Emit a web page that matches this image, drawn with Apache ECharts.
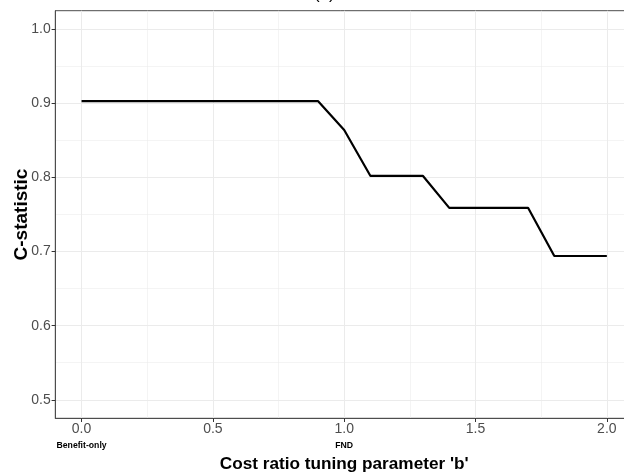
<!DOCTYPE html>
<html>
<head>
<meta charset="utf-8">
<script src="https://cdn.jsdelivr.net/npm/echarts@6/dist/echarts.min.js"></script>
<style>html,body{margin:0;padding:0;background:#fff;}#c{width:624px;height:474px;}</style>
</head>
<body>
<div id="c"></div>
<script>
// ---- data ----
const bValues = [0.0,0.1,0.2,0.3,0.4,0.5,0.6,0.7,0.8,0.9,1.0,1.1,1.2,1.3,1.4,1.5,1.6,1.7,1.8,1.9,2.0];
const cStatistic = [0.903,0.903,0.903,0.903,0.903,0.903,0.903,0.903,0.903,0.903,0.864,0.802,0.802,0.802,0.759,0.759,0.759,0.759,0.694,0.694,0.694];
const xMajorTicks = [0, 0.5, 1.0, 1.5, 2.0];
const xMinorTicks = [0.25, 0.75, 1.25, 1.75];
const yMajorTicks = [0.5, 0.6, 0.7, 0.8, 0.9, 1.0];
const yMinorTicks = [0.55, 0.65, 0.75, 0.85, 0.95];
const annotationValues = [0, 1];
const annotationLabels = ['Benefit-only', 'FND'];
const plotTitle = '(a)';
const xTitle = "Cost ratio tuning parameter 'b'";
const yTitle = 'C-statistic';

const FONT = '"Liberation Sans", Arial, Helvetica, sans-serif';
const chart = echarts.init(document.getElementById('c'), null, {renderer: 'canvas'});
const lineData = bValues.map((b, i) => [b, cStatistic[i]]);

const hidden = {show: false};
const option = {
  animation: false,
  backgroundColor: '#ffffff',
  title: {
    text: plotTitle, left: 309, top: -19,
    textStyle: {fontFamily: FONT, fontSize: 17, fontWeight: 'normal', color: '#000'}
  },
  grid: {
    left: 55.3, top: 10.7, width: 577.8, height: 407.6,
    outerBoundsMode: 'none', containLabel: false,
    show: true, borderColor: '#4d4d4d', borderWidth: 1, backgroundColor: 'transparent'
  },
  xAxis: [
    {
      type: 'value', min: -0.1, max: 2.1,
      axisLine: {show: true, onZero: false, lineStyle: {color: '#4d4d4d', width: 1}},
      axisTick: {show: true, customValues: xMajorTicks, length: 3.7, lineStyle: {color: '#333', width: 1}},
      axisLabel: {customValues: xMajorTicks, formatter: v => v.toFixed(1), fontFamily: FONT, fontSize: 14, color: '#4d4d4d', margin: 3.5},
      splitLine: {show: true, lineStyle: {color: '#ebebeb', width: 1.07}},
      name: xTitle, nameLocation: 'middle', nameGap: 37, nameMoveOverlap: false,
      nameTextStyle: {fontFamily: FONT, fontSize: 17.2, fontWeight: 'bold', color: '#000'}
    },
    {
      type: 'value', min: -0.1, max: 2.1, position: 'bottom',
      axisLine: hidden, axisLabel: hidden,
      axisTick: {show: false, customValues: xMinorTicks},
      splitLine: {show: true, lineStyle: {color: '#ebebeb', width: 0.55}}
    },
    {
      type: 'value', min: -0.1, max: 2.1, position: 'bottom',
      axisLine: hidden, splitLine: hidden,
      axisTick: {show: false, customValues: annotationValues},
      axisLabel: {
        customValues: annotationValues,
        formatter: v => annotationLabels[annotationValues.indexOf(v)] || '',
        fontFamily: FONT, fontSize: 8.7, fontWeight: 'bold', color: '#000', margin: 22.5
      }
    }
  ],
  yAxis: [
    {
      type: 'value', min: 0.475, max: 1.025,
      axisLine: {show: true, onZero: false, lineStyle: {color: '#4d4d4d', width: 1}},
      axisTick: {show: true, customValues: yMajorTicks, length: 3.7, lineStyle: {color: '#333', width: 1}},
      axisLabel: {customValues: yMajorTicks, formatter: v => v.toFixed(1), fontFamily: FONT, fontSize: 14, color: '#4d4d4d', margin: 4.5},
      splitLine: {show: true, lineStyle: {color: '#ebebeb', width: 1.07}},
      name: yTitle, nameLocation: 'middle', nameGap: 24, nameMoveOverlap: false,
      nameTextStyle: {fontFamily: FONT, fontSize: 19, fontWeight: 'bold', color: '#000'}
    },
    {
      type: 'value', min: 0.475, max: 1.025, position: 'left',
      axisLine: hidden, axisLabel: hidden,
      axisTick: {show: false, customValues: yMinorTicks},
      splitLine: {show: true, lineStyle: {color: '#ebebeb', width: 0.55}}
    }
  ],
  series: [
    {
      type: 'line', xAxisIndex: 0, yAxisIndex: 0,
      data: lineData, showSymbol: false, symbol: 'none',
      lineStyle: {color: '#000', width: 2.2}, z: 5
    }
  ]
};
chart.setOption(option);
</script>
</body>
</html>
